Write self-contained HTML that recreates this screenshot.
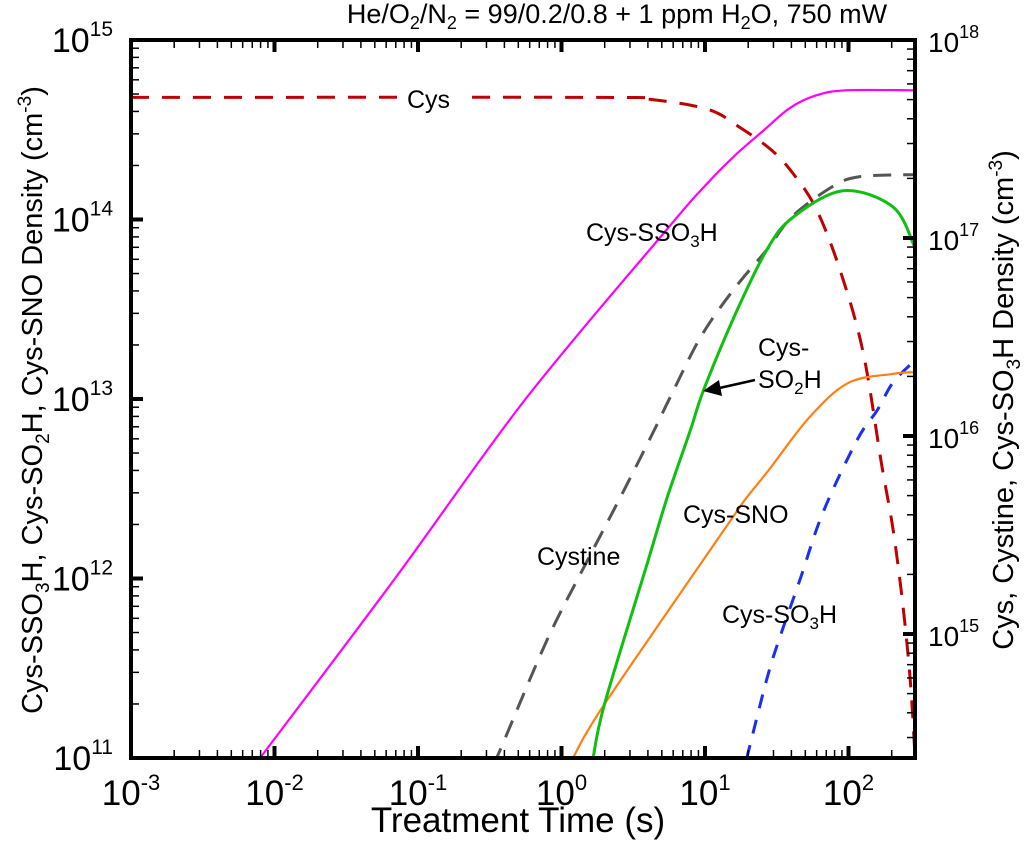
<!DOCTYPE html>
<html><head><meta charset="utf-8">
<style>
html,body{margin:0;padding:0;background:#fff;}
svg{display:block;font-family:"Liberation Sans",Arial,sans-serif;}
</style></head>
<body>
<svg id="chart" width="1025" height="843" viewBox="0 0 1025 843" xmlns="http://www.w3.org/2000/svg" style="position:absolute;left:0;top:0">
<g id="series"></g>
<g id="axes"></g>
</svg>
<script>
// Data (log10 of time in s, log10 of density in cm^-3)
const ssoT = [-2.10,-1.16,-0.25,0.74,0.98,1.20,1.40,1.59,1.77,1.98,2.46];
const ssoV = [11.0,12.0,13.0,13.95,14.17,14.35,14.49,14.62,14.69,14.72,14.72];
const so2T = [0.22,0.30,0.60,0.74,0.90,0.99,1.21,1.43,1.61,1.96,2.31,2.46];
const so2V = [11.0,11.30,12.09,12.46,12.83,13.05,13.47,13.83,14.01,14.16,14.07,13.85];
const snoT = [0.08,0.30,1.15,1.29,1.45,1.73,2.00,2.31,2.46];
const snoV = [11.0,11.30,12.29,12.45,12.61,12.90,13.09,13.14,13.15];
const cystineT = [-0.46,-0.43,-0.10,0.18,0.41,0.64,0.76,0.97,1.20,1.43,1.61,1.89,2.08,2.46];
const cystineV = [14.37,14.41,14.97,15.37,15.69,16.02,16.20,16.50,16.74,16.94,17.11,17.26,17.31,17.32];
const so3T = [1.29,1.43,1.52,1.66,1.82,2.06,2.20,2.31,2.46];
const so3V = [14.37,14.77,14.98,15.27,15.61,15.98,16.13,16.27,16.38];
const cysT = [-3,0.27,0.62,1.02,1.24,1.47,1.63,1.78,1.94,2.10,2.23,2.31,2.38,2.43,2.46];
const cysV = [17.71,17.71,17.70,17.65,17.56,17.44,17.31,17.14,16.84,16.43,15.86,15.53,15.14,14.77,14.43];
const xTicks = [-3,-2,-1,0,1,2];
const yLeftTicks = [11,12,13,14,15];
const yRightTicks = [15,16,17,18];

const L=131, R=915, T=40, B=758;
const xs = lt => L + (lt + 3) * 143.5;
const yL = lv => T + (15 - lv) * 179.5;
const yR = lv => T + (18 - lv) * 198;
const NS="http://www.w3.org/2000/svg";
function mk(tag, attrs, parent){const e=document.createElementNS(NS,tag);for(const k in attrs)e.setAttribute(k,attrs[k]);parent.appendChild(e);return e;}
const gS=document.getElementById('series'), gA=document.getElementById('axes');

const defs=mk('defs',{},gS);
const cp=mk('clipPath',{id:'clip'},defs);
mk('rect',{x:L,y:T,width:R-L,height:B-T},cp);

function line(tA,vA,yf,color,w,dash,name){
  const P=tA.map((t,i)=>[xs(t),yf(vA[i])]);
  let d='M'+P[0][0].toFixed(1)+','+P[0][1].toFixed(1);
  for(let i=0;i<P.length-1;i++){
    const p0=P[Math.max(0,i-1)],p1=P[i],p2=P[i+1],p3=P[Math.min(P.length-1,i+2)];
    const c1=[p1[0]+(p2[0]-p0[0])/6,p1[1]+(p2[1]-p0[1])/6];
    const c2=[p2[0]-(p3[0]-p1[0])/6,p2[1]-(p3[1]-p1[1])/6];
    d+=' C'+c1[0].toFixed(1)+','+c1[1].toFixed(1)+' '+c2[0].toFixed(1)+','+c2[1].toFixed(1)+' '+p2[0].toFixed(1)+','+p2[1].toFixed(1);
  }
  const p=mk('path',{d:d,fill:'none',stroke:color,'stroke-width':w,'clip-path':'url(#clip)','stroke-linejoin':'round'},gS);
  if(dash)p.setAttribute('stroke-dasharray',dash);
  
  
}
line(cysT,cysV,yR,'#c00000',3,'18,13','cys-line');
line(cystineT,cystineV,yR,'#555',3,'18,12','cystine-line');
line(so3T,so3V,yR,'#1a2ff0',3,'14,12','cys-so3h-line');
line(ssoT,ssoV,yL,'#ff00ff',2.2,null,'cys-sso3h-line');
line(snoT,snoV,yL,'#ff8010',2.2,null,'cys-sno-line');
line(so2T,so2V,yL,'#10c010',3,null,'cys-so2h-line');

const fr=mk('rect',{x:L,y:T,width:R-L,height:B-T,fill:'none',stroke:'#000','stroke-width':4},gA);



for(let i=0;i<xTicks.length;i++){
  const d=xTicks[i];
  for(let m=1;m<10;m++){
    const x=xs(d+Math.log10(m)); if(x>R)break;
    const len=m===1?12:8, w=m===1?4:1.5;
    mk('line',{x1:x,y1:B,x2:x,y2:B-len,stroke:'#000','stroke-width':w},gA);
    mk('line',{x1:x,y1:T,x2:x,y2:T+len,stroke:'#000','stroke-width':w},gA);
  }
  const tx=mk('text',{x:xs(d),y:805,'font-size':35,'text-anchor':'middle'},gA);
  tx.innerHTML='10<tspan dy="-15" font-size="22">'+d+'</tspan>';
  
  
}
for(const d of yLeftTicks){
  for(let m=1;m<10;m++){
    const y=yL(d+Math.log10(m)); if(y<T-1)break;
    mk('line',{x1:L,y1:y,x2:L+(m===1?12:8),y2:y,stroke:'#000','stroke-width':m===1?4:1.5},gA);
  }
  const tx=mk('text',{x:113,y:yL(d)+12,'font-size':34,'text-anchor':'end'},gA);
  tx.innerHTML='10<tspan dy="-16" font-size="21">'+d+'</tspan>';
  
  
}
for(let d=14;d<=18;d++){
  for(let m=1;m<10;m++){
    const y=yR(d+Math.log10(m)); if(y<T-1||y>B)continue;
    mk('line',{x1:R,y1:y,x2:R-(m===1?12:8),y2:y,stroke:'#000','stroke-width':m===1?4:1.5},gA);
  }
}
for(const d of yRightTicks){
  const tx=mk('text',{x:928,y:yR(d)+12,'font-size':28},gA);
  tx.innerHTML='10<tspan dy="-14" font-size="18">'+d+'</tspan>';
  
  
}
</script>
<svg width="1025" height="843" style="position:absolute;left:0;top:0;font-family:'Liberation Sans',Arial,sans-serif">
<text x="617" y="23" font-size="27" text-anchor="middle">He/O<tspan dy="6" font-size="18">2</tspan><tspan dy="-6">/N</tspan><tspan dy="6" font-size="18">2</tspan><tspan dy="-6"> = 99/0.2/0.8 + 1 ppm H</tspan><tspan dy="6" font-size="18">2</tspan><tspan dy="-6">O, 750 mW</tspan></text>
<text x="518" y="832" font-size="35" text-anchor="middle">Treatment Time (s)</text>
<text transform="translate(42,400) rotate(-90)" font-size="29" text-anchor="middle">Cys-SSO<tspan dy="7" font-size="19">3</tspan><tspan dy="-7">H, Cys-SO</tspan><tspan dy="7" font-size="19">2</tspan><tspan dy="-7">H, Cys-SNO Density (cm</tspan><tspan dy="-11" font-size="19">-3</tspan><tspan dy="11">)</tspan></text>
<text transform="translate(1013,400) rotate(-90)" font-size="29" text-anchor="middle">Cys, Cystine, Cys-SO<tspan dy="7" font-size="19">3</tspan><tspan dy="-7">H Density (cm</tspan><tspan dy="-11" font-size="19">-3</tspan><tspan dy="11">)</tspan></text>
<rect x="400" y="82" width="60" height="30" fill="#fff"/>
<text x="407" y="108" font-size="25">Cys</text>
<text x="586" y="241" font-size="25">Cys-SSO<tspan dy="6" font-size="17">3</tspan><tspan dy="-6">H</tspan></text>
<text x="758" y="356" font-size="25">Cys-</text>
<text x="758" y="388" font-size="25">SO<tspan dy="6" font-size="17">2</tspan><tspan dy="-6">H</tspan></text>
<g><line x1="755" y1="380" x2="715" y2="389" stroke="#000" stroke-width="2.5"/><polygon points="703,391 719,380 722,396" fill="#000"/></g>
<text x="683" y="523" font-size="25">Cys-SNO</text>
<text x="537" y="565" font-size="25">Cystine</text>
<text x="722" y="623" font-size="25">Cys-SO<tspan dy="6" font-size="17">3</tspan><tspan dy="-6">H</tspan></text>
</svg>
</body></html>
